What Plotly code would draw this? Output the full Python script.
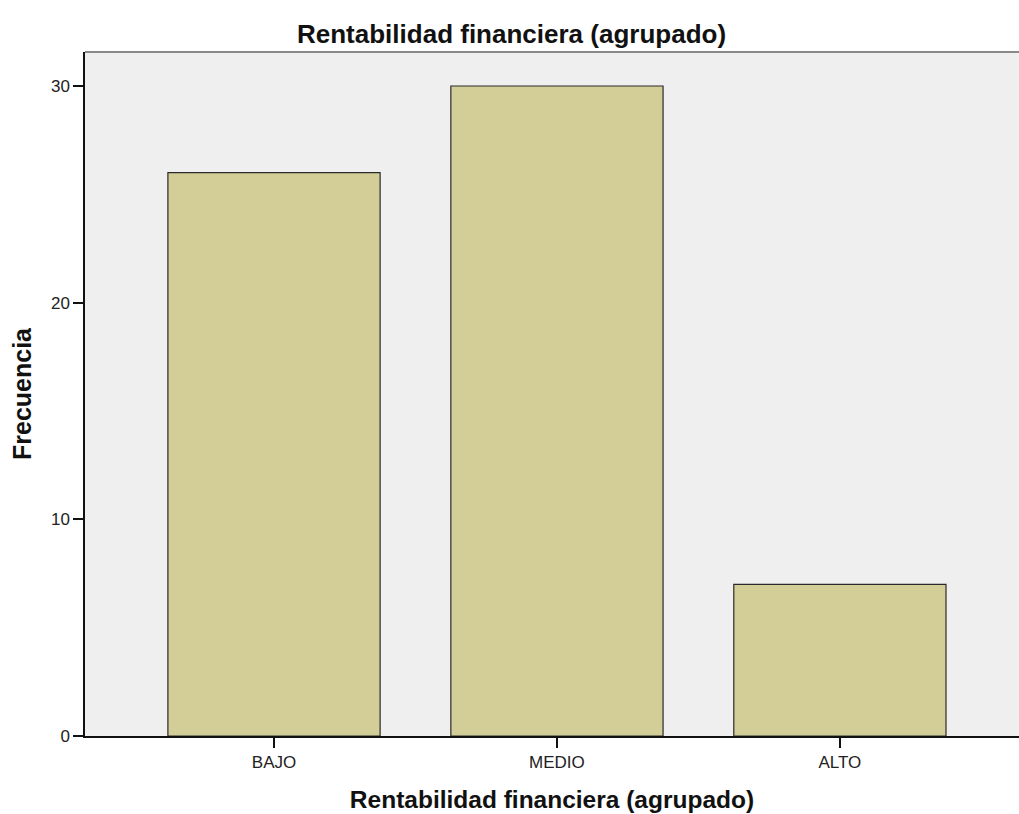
import plotly.graph_objects as go

categories = ["BAJO", "MEDIO", "ALTO"]
frecuencia = [26, 30, 7]
y_ticks = [0, 10, 20, 30]

title_text = "Rentabilidad financiera (agrupado)"
x_title = "Rentabilidad financiera (agrupado)"
y_title = "Frecuencia"

FONT = "Liberation Sans, Arial, sans-serif"

fig = go.Figure()
fig.add_trace(go.Bar(
    x=[0, 1, 2],
    y=frecuencia,
    width=0.75,
    marker=dict(color="#d3ce98", line=dict(color="#2a2a2a", width=1.2)),
    hoverinfo="x+y",
))

fig.update_layout(
    width=1019, height=814,
    margin=dict(l=85, r=0, t=52, b=78),
    paper_bgcolor="white",
    plot_bgcolor="#efefef",
    showlegend=False,
    font=dict(family=FONT, color="#1a1a1a"),
    title=dict(text="<b>" + title_text + "</b>", x=0.502, xref="container",
               xanchor="center", y=0.958, yref="container", yanchor="middle",
               font=dict(family=FONT, size=26, color="#111111")),
    xaxis=dict(
        range=[-0.668, 2.633],
        tickmode="array", tickvals=[0, 1, 2], ticktext=categories,
        ticks="outside", ticklen=10, tickwidth=1.5, tickcolor="#111111",
        showline=True, linecolor="#111111", linewidth=1.5,
        showgrid=False, zeroline=False,
        tickfont=dict(family=FONT, size=17, color="#222222"),
        title=dict(text="<b>" + x_title + "</b>", standoff=20,
                   font=dict(family=FONT, size=24.5, color="#111111")),
        automargin=False,
    ),
    yaxis=dict(
        range=[0, 31.57],
        tickmode="array", tickvals=y_ticks,
        ticks="outside", ticklen=10, tickwidth=1.5, tickcolor="#111111",
        showline=True, linecolor="#111111", linewidth=1.5,
        showgrid=False, zeroline=False,
        tickfont=dict(family=FONT, size=17, color="#222222"),
        title=dict(text="<b>" + y_title + "</b>", standoff=12,
                   font=dict(family=FONT, size=25, color="#111111")),
        automargin=False,
    ),
    shapes=[dict(type="line", xref="paper", yref="paper", x0=0, x1=1, y0=1, y1=1,
                 line=dict(color="#8a8a8a", width=2))],
)

fig.write_html("out.html", config={"displayModeBar": False},
               post_script="document.body.style.margin='0';")
